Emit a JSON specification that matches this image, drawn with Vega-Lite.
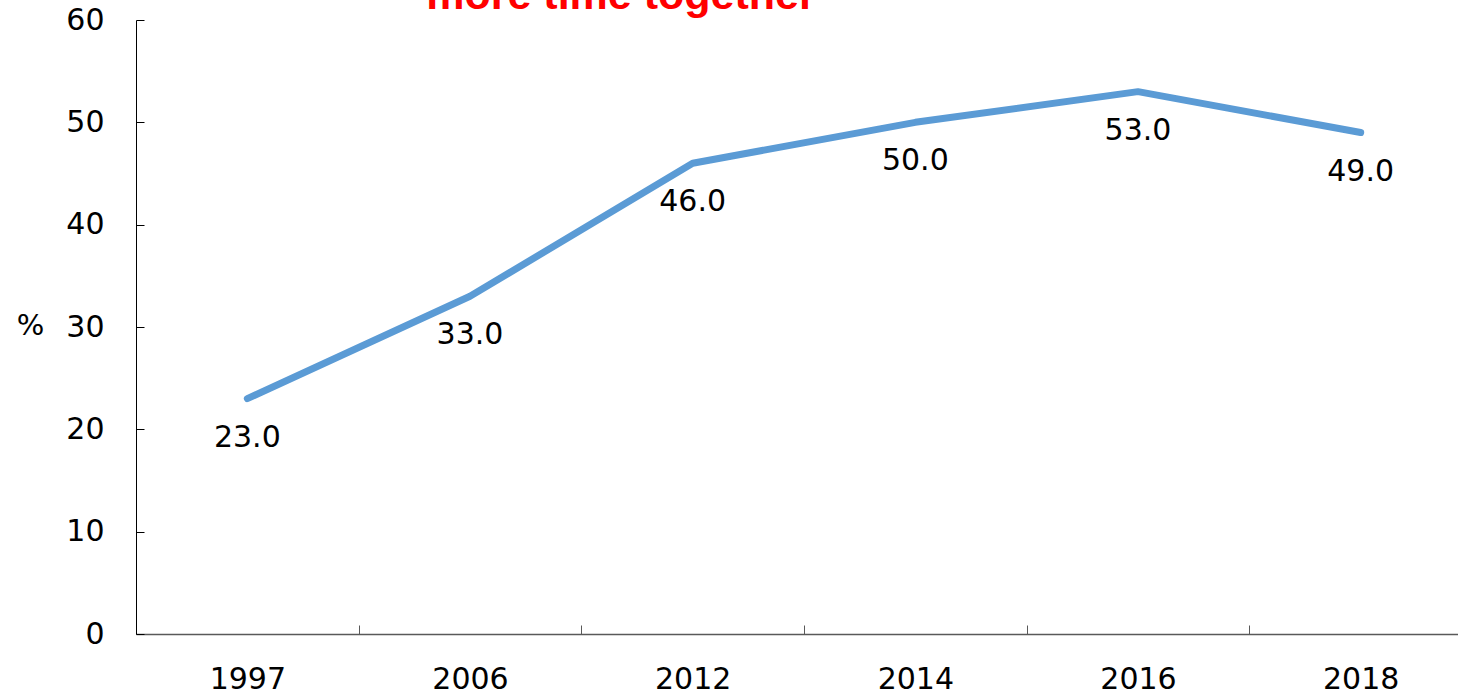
{
  "$schema": "https://vega.github.io/schema/vega-lite/v6.json",
  "width": 1322,
  "height": 614,
  "autosize": {"type": "none"},
  "padding": {"left": 136, "top": 20, "right": 0, "bottom": 59},
  "background": "white",
  "title": {
    "text": "more time together",
    "color": "#FF0000",
    "font": "Liberation Sans",
    "fontWeight": "bold",
    "fontSize": 43,
    "anchor": "start",
    "dx": 410,
    "dy": 47,
    "offset": 0,
    "baseline": "alphabetic"
  },
  "data": {
    "values": [
      {"year": "1997", "pct": 23.0},
      {"year": "2006", "pct": 33.0},
      {"year": "2012", "pct": 46.0},
      {"year": "2014", "pct": 50.0},
      {"year": "2016", "pct": 53.0},
      {"year": "2018", "pct": 49.0}
    ]
  },
  "config": {
    "view": {"stroke": null},
    "axis": {"grid": false, "labelFont": "DejaVu Sans", "labelFontSize": 30, "labelColor": "#000000", "titleFont": "DejaVu Sans", "titleFontWeight": "normal"}
  },
  "encoding": {
    "x": {
      "field": "year",
      "type": "ordinal",
      "sort": null,
      "scale": {"type": "band", "paddingInner": 0, "paddingOuter": 0, "range": [0, 1336]},
      "axis": {
        "title": null,
        "labelAngle": 0,
        "tickBand": "extent",
        "tickSize": -9,
        "tickColor": "#595959",
        "domainColor": "#595959",
        "domainWidth": 1.5,
        "labelPadding": 54,
        "labelBaseline": "middle"
      }
    },
    "y": {
      "field": "pct",
      "type": "quantitative",
      "scale": {"domain": [0, 60], "nice": false},
      "axis": {
        "values": [0, 10, 20, 30, 40, 50, 60],
        "title": "%",
        "titleAngle": 0,
        "titleX": -106,
        "titleY": 305,
        "titleAlign": "center",
        "titleBaseline": "middle",
        "titleFontSize": 29,
        "titleColor": "#000000",
        "tickSize": -8,
        "tickColor": "#000000",
        "domainColor": "#000000",
        "labelPadding": 40,
        "labelBaseline": "middle"
      }
    }
  },
  "layer": [
    {
      "mark": {"type": "line", "color": "#5B9BD5", "strokeWidth": 7, "strokeCap": "round", "strokeJoin": "round"},
      "encoding": {"x": {"field": "year", "type": "ordinal", "sort": null, "bandPosition": 0.5}}
    },
    {
      "mark": {"type": "text", "font": "DejaVu Sans", "fontSize": 30, "color": "#000000", "baseline": "middle", "dy": 39},
      "encoding": {
        "x": {"field": "year", "type": "ordinal", "sort": null, "bandPosition": 0.5},
        "text": {"field": "pct", "type": "quantitative", "format": ".1f"}
      }
    }
  ]
}
